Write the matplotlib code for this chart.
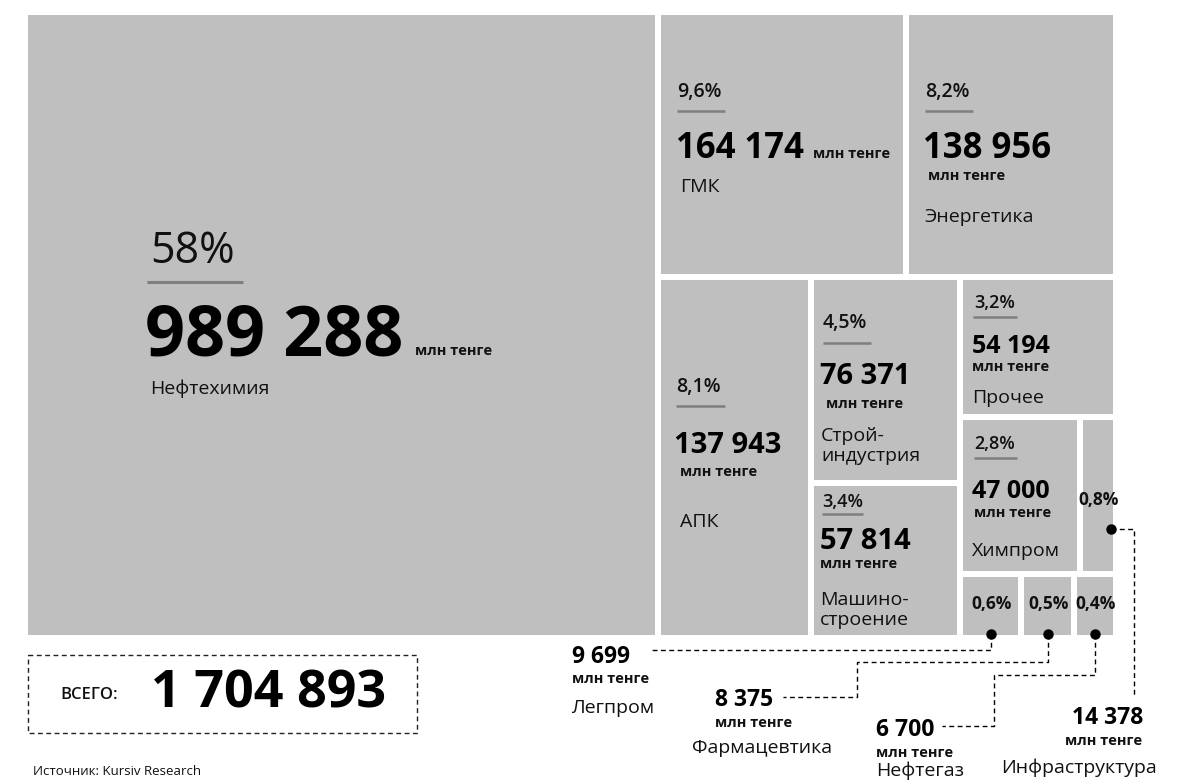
import matplotlib
matplotlib.use("Agg")
import matplotlib.pyplot as plt
from matplotlib.patches import Rectangle

plt.rcParams['font.family'] = ['Open Sans', 'DejaVu Sans']

# data
sectors = ["Нефтехимия", "ГМК", "Энергетика", "АПК", "Стройиндустрия", "Машиностроение",
           "Прочее", "Химпром", "Инфраструктура", "Легпром", "Фармацевтика", "Нефтегаз"]
values = [989288, 164174, 138956, 137943, 76371, 57814, 54194, 47000, 14378, 9699, 8375, 6700]
shares = ["58%", "9,6%", "8,2%", "8,1%", "4,5%", "3,4%", "3,2%", "2,8%", "0,8%", "0,6%", "0,5%", "0,4%"]
total_label = "1 704 893"
unit = "млн тенге"
source = "Источник: Kursiv Research"

# how the treemap is sliced (h = side by side, v = stacked)
tree = ("h", ["Нефтехимия",
              ("v", [("h", ["ГМК", "Энергетика"]),
                     ("h", ["АПК",
                            ("v", ["Стройиндустрия", "Машиностроение"]),
                            ("v", ["Прочее",
                                   ("h", ["Химпром", "Инфраструктура"]),
                                   ("h", ["Легпром", "Фармацевтика", "Нефтегаз"])])])])])

val = dict(zip(sectors, values))
pct = dict(zip(sectors, shares))


def weight(node):
    if isinstance(node, str):
        return val[node]
    return sum(weight(k) for k in node[1])


def split(node, x0, y0, x1, y1, out):
    if isinstance(node, str):
        out[node] = (x0, y0, x1, y1)
        return
    orient, kids = node
    tot = weight(node)
    pos = x0 if orient == "h" else y0
    for k in kids:
        f = weight(k) / tot
        if orient == "h":
            w = (x1 - x0) * f
            split(k, pos, y0, pos + w, y1, out)
        else:
            w = (y1 - y0) * f
            split(k, x0, pos, x1, pos + w, out)
        pos += w


def fmt(v):
    return f"{v:,}".replace(",", " ")


GRAY = "#bfbfbf"
LINE = "#7f7f7f"
INK = "#111111"
g = 3.0

fig = plt.figure(figsize=(11.8, 7.81), dpi=100)
ax = fig.add_axes([0, 0, 1, 1])
ax.set_xlim(0, 1180)
ax.set_ylim(781, 0)
ax.axis("off")

rects = {}
split(tree, 25, 12, 1116, 638, rects)
for name, (x0, y0, x1, y1) in rects.items():
    ax.add_patch(Rectangle((x0 + g, y0 + g), x1 - x0 - 2 * g, y1 - y0 - 2 * g,
                           facecolor=GRAY, edgecolor="none"))

# label layout: percent (x, baseline, size), underline (x0, x1, y), number (x, baseline, size),
# unit (x, baseline), name (x, baseline)
labels = {
    "Нефтехимия": dict(p=(150, 263, 31), u=(146.7, 243.3, 281.7), n=(145, 355, 50.5), m=(415, 355), t=(150, 394)),
    "ГМК": dict(p=(677, 97.3, 14), u=(676.8, 725.4, 110.7), n=(676, 158.3, 25), m=(813, 158.3), t=(680, 192)),
    "Энергетика": dict(p=(925, 97.3, 14), u=(925, 973.3, 110.7), n=(923, 158.3, 25), m=(928, 180), t=(924, 222)),
    "АПК": dict(p=(676, 391.7, 14), u=(676, 724.7, 406), n=(674.5, 452.7, 21), m=(680, 476), t=(680, 526.7)),
    "Стройиндустрия": dict(p=(823, 328.3, 14), u=(822.5, 871.4, 342.7), n=(820, 384, 21), m=(826, 408.3),
                           t=(821, 440.7), text="Строй-\nиндустрия"),
    "Машиностроение": dict(p=(822, 506.7, 13), u=(821.8, 862.8, 514.3), n=(820, 549.3, 21), m=(820, 568.3),
                           t=(820, 605), text="Машино-\nстроение"),
    "Прочее": dict(p=(974, 308.3, 13), u=(973.3, 1016.7, 317.3), n=(971.5, 353.3, 18), m=(972, 370.7), t=(972, 402.7)),
    "Химпром": dict(p=(974, 449, 13), u=(974, 1016.7, 458.3), n=(971.5, 497.7, 18), m=(974, 517.3), t=(972, 556)),
    "Легпром": dict(n=(572, 662.7, 16.5), m=(572, 683.3), t=(571, 712.7)),
    "Фармацевтика": dict(n=(715, 706, 16.5), m=(715, 726.7), t=(692, 753.3)),
    "Нефтегаз": dict(n=(876, 736, 16.5), m=(876, 756.7), t=(876, 776)),
    "Инфраструктура": dict(n=(1072, 724.3, 16.5), m=(1065, 745), t=(1001, 773.3)),
}

for name, L in labels.items():
    if "p" in L:
        x, y, s = L["p"]
        ax.text(x, y, pct[name], fontsize=s, fontweight="medium" if s > 20 else "semibold",
                color=INK, ha="left", va="baseline")
        ux0, ux1, uy = L["u"]
        ax.plot([ux0, ux1], [uy, uy], color=LINE, lw=2.2 if s > 20 else 1.8, solid_capstyle="butt")
    x, y, s = L["n"]
    ax.text(x, y, fmt(val[name]), fontsize=s, fontweight="bold", color="black", ha="left", va="baseline")
    x, y = L["m"]
    ax.text(x, y, unit, fontsize=10.5, fontweight="bold", color=INK, ha="left", va="baseline")
    x, y = L["t"]
    for i, line in enumerate(L.get("text", name).split("\n")):
        ax.text(x, y + i * 20, line, fontsize=14, color=INK, ha="left", va="baseline")

# small cells: percent centred in the cell
for name in ["Инфраструктура", "Легпром", "Фармацевтика", "Нефтегаз"]:
    x0, y0, x1, y1 = rects[name]
    yb = 505 if name == "Инфраструктура" else 609.3
    ax.text((x0 + x1) / 2 + 1, yb, pct[name], fontsize=12.5, fontweight="bold", color=INK,
            ha="center", va="baseline")

# leader lines from the small cells to their captions
dash = dict(color="black", lw=1.0, linestyle=(0, (3.5, 2.5)))
routes = {
    "Легпром": [650, 651.7],
    "Фармацевтика": [661.7, 856.7, 697, 782.7],
    "Нефтегаз": [675, 994.3, 726, 941.7],
}
for name, r in routes.items():
    x0, y0, x1, y1 = rects[name]
    cx, by = (x0 + x1) / 2, y1 - g - 1
    xs, ys = [cx, cx], [by, r[0]]
    for i in range(1, len(r), 2):
        xs += [r[i]]
        ys += [ys[-1]]
        if i + 1 < len(r):
            xs += [r[i]]
            ys += [r[i + 1]]
    ax.plot(xs, ys, **dash)
    ax.plot(cx, by, "o", color="black", ms=6.5)

x0, y0, x1, y1 = rects["Инфраструктура"]
dx, dy = x1 - g - 2.5, 529.3
ax.plot([dx, 1134.3, 1134.3], [dy, dy, 696], **dash)
ax.plot(dx, dy, "o", color="black", ms=6.5)

# total box
ax.add_patch(Rectangle((27.5, 655), 389, 77.7, facecolor="none", edgecolor="#222222",
                       lw=1.0, linestyle=(0, (3.5, 2.5))))
ax.text(60, 699.3, "ВСЕГО:", fontsize=12, fontweight="semibold", color=INK, ha="left", va="baseline")
ax.text(151, 707.3, total_label, fontsize=37.5, fontweight="bold", color="black", ha="left", va="baseline")

ax.text(33, 775, source, fontsize=9.5, color=INK, ha="left", va="baseline")

fig.savefig("out.png", dpi=100)
